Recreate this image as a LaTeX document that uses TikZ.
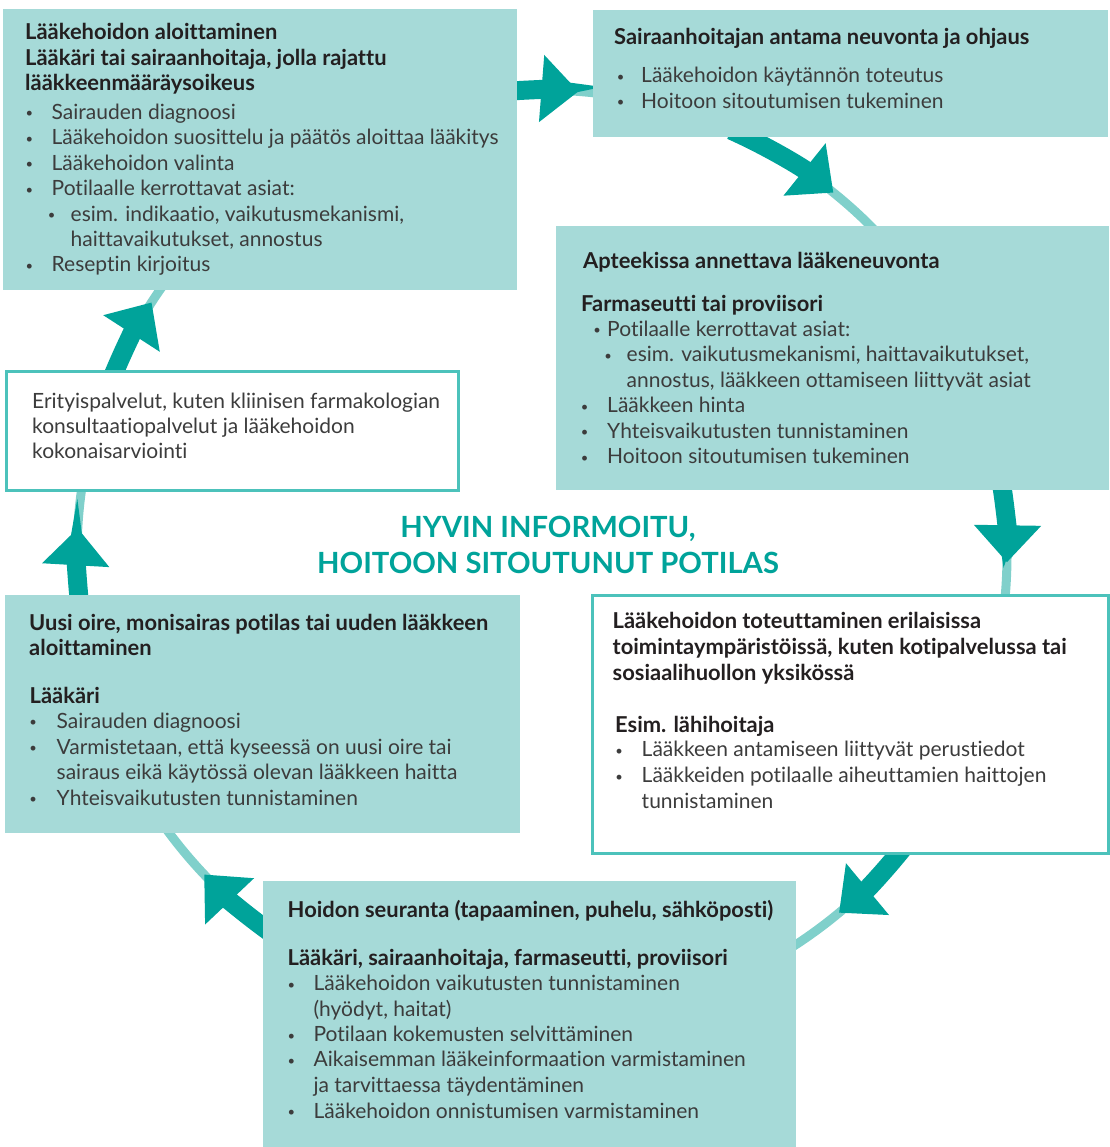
\documentclass[tikz,border=0pt]{standalone}
\usepackage{fontspec}
\setmainfont{Lato}[Ligatures=NoCommon]
\usetikzlibrary{arrows.meta}
\definecolor{boxfill}{HTML}{A6DAD8}
\definecolor{ring}{HTML}{80D0CB}
\definecolor{dark}{HTML}{00A39A}
\definecolor{edge}{HTML}{4CC2BB}
\definecolor{bodyc}{HTML}{3C3C3C}
\definecolor{headc}{HTML}{231F20}
\newcounter{tl}
\newcommand\Tb[3]{\stepcounter{tl}\node[bodytxt] (b\arabic{tl}) at (#1,#2) {#3};}
\newcommand\Th[3]{\stepcounter{tl}\node[headtxt] (h\arabic{tl}) at (#1,#2) {#3};}
\newcommand\Bu[2]{\stepcounter{tl}\node[bultxt] (d\arabic{tl}) at (#1-3.3,#2-1.5) {•};}
\begin{document}
\begin{tikzpicture}[x=1pt,y=-1pt,
  fillbox/.style={fill=boxfill, draw=none, anchor=north west, inner sep=0pt},
  whitebox/.style={fill=white, draw=edge, line width=2.5pt, anchor=north west, inner sep=0pt},
  ringline/.style={draw=ring, line width=9pt},
  flow/.style={draw=dark, line width=19pt, -{Triangle[width=65pt,length=37pt]}},
  bodytxt/.style={anchor=base west, inner sep=0pt, text=bodyc, font=\fontsize{21}{25}\selectfont},
  bultxt/.style={anchor=base west, inner sep=0pt, text=bodyc, font=\fontsize{13}{13}\selectfont},
  headtxt/.style={anchor=base west, inner sep=0pt, text=headc, font=\fontsize{21.9}{25}\selectfont\bfseries},
  centertxt/.style={anchor=base, inner sep=0pt, text=dark, font=\fontsize{29.2}{34}\selectfont\bfseries}]
\useasboundingbox (0,0) rectangle (1109,1147);
\fill[white] (0,0) rectangle (1109,1147);
\coordinate (O) at (542,555);
% ring
\draw[ringline] (O) circle[radius=465];
% flow arrows along the ring
\draw[flow] ([shift={(-95:465)}]O) arc[start angle=-95, end angle=-85.5, radius=465];
\draw[flow] ([shift={(-66:465)}]O) arc[start angle=-66, end angle=-51.2, radius=465];
\draw[flow] ([shift={(-10:465)}]O) arc[start angle=-10, end angle=0.9, radius=465];
\draw[flow] ([shift={(37:465)}]O) arc[start angle=37, end angle=50.3, radius=465];
\draw[flow] ([shift={(125:465)}]O) arc[start angle=125, end angle=136.6, radius=465];
\draw[flow] ([shift={(173:465)}]O) arc[start angle=173, end angle=183.3, radius=465];
\draw[flow] ([shift={(201:465)}]O) arc[start angle=201, end angle=212.9, radius=465];
% boxes
\node[fillbox, minimum width=514pt, minimum height=281pt] (boxA) at (3,9) {};
\node[fillbox, minimum width=515pt, minimum height=127pt] (boxB) at (593,10) {};
\node[fillbox, minimum width=553pt, minimum height=264pt] (boxC) at (556,226) {};
\node[whitebox, minimum width=452pt, minimum height=119pt] (boxD) at (5,370) {};
\node[fillbox, minimum width=515pt, minimum height=238pt] (boxE) at (5,595) {};
\node[whitebox, minimum width=516pt, minimum height=258pt] (boxF) at (591,594) {};
\node[fillbox, minimum width=533pt, minimum height=266pt] (boxG) at (263,881) {};
% box A
\Th{25}{39.5}{Lääkehoidon aloittaminen}
\Th{25}{65.5}{Lääkäri tai sairaanhoitaja, jolla rajattu}
\Th{25}{91}{lääkkeenmääräysoikeus}
\Bu{28.7}{119.3}\Tb{51.5}{119.3}{Sairauden diagnoosi}
\Bu{28.7}{145}\Tb{51.5}{145}{Lääkehoidon suosittelu ja päätös aloittaa lääkitys}
\Bu{28.7}{170.5}\Tb{51.5}{170.5}{Lääkehoidon valinta}
\Bu{28.7}{196}\Tb{51.5}{196}{Potilaalle kerrottavat asiat:}
\Bu{51}{221.3}\Tb{70.5}{221.3}{esim. indikaatio, vaikutusmekanismi,}
\Tb{70.5}{246.7}{haittavaikutukset, annostus}
\Bu{28.7}{272}\Tb{51.5}{272}{Reseptin kirjoitus}
% box B
\Th{614}{45}{Sairaanhoitajan antama neuvonta ja ohjaus}
\Bu{620}{83}\Tb{641}{83}{Lääkehoidon käytännön toteutus}
\Bu{620}{108.5}\Tb{641}{108.5}{Hoitoon sitoutumisen tukeminen}
% box C
\Th{583}{268.5}{Apteekissa annettava lääkeneuvonta}
\Th{581}{311}{Farmaseutti tai proviisori}
\Bu{596.5}{336}\Tb{607}{336}{Potilaalle kerrottavat asiat:}
\Bu{607.5}{361.5}\Tb{626.5}{361.5}{esim. vaikutusmekanismi, haittavaikutukset,}
\Tb{626.5}{387}{annostus, lääkkeen ottamiseen liittyvät asiat}
\Bu{584}{412.5}\Tb{607}{412.5}{Lääkkeen hinta}
\Bu{584}{438}\Tb{607}{438}{Yhteisvaikutusten tunnistaminen}
\Bu{584}{463.5}\Tb{607}{463.5}{Hoitoon sitoutumisen tukeminen}
% box D
\Tb{32}{408.3}{Erityispalvelut, kuten kliinisen farmakologian}
\Tb{32}{433.3}{konsultaatiopalvelut ja lääkehoidon}
\Tb{32}{458.3}{kokonaisarviointi}
% centre
\node[centertxt] (c1) at (548,537) {HYVIN INFORMOITU,};
\node[centertxt] (c2) at (548,573) {HOITOON SITOUTUNUT POTILAS};
% box E
\Th{29}{630.5}{Uusi oire, monisairas potilas tai uuden lääkkeen}
\Th{29}{655.5}{aloittaminen}
\Th{29.5}{703.5}{Lääkäri}
\Bu{32.5}{728.3}\Tb{56.5}{728.3}{Sairauden diagnoosi}
\Bu{32.5}{754}\Tb{56.5}{754}{Varmistetaan, että kyseessä on uusi oire tai}
\Tb{56.5}{779.3}{sairaus eikä käytössä olevan lääkkeen haitta}
\Bu{32.5}{805}\Tb{56.5}{805}{Yhteisvaikutusten tunnistaminen}
% box F
\Th{612.5}{628.8}{Lääkehoidon toteuttaminen erilaisissa}
\Th{612.5}{654.8}{toimintaympäristöissä, kuten kotipalvelussa tai}
\Th{612.5}{680.5}{sosiaalihuollon yksikössä}
\Th{615}{732}{Esim. lähihoitaja}
\Bu{618.5}{756.7}\Tb{641.5}{756.7}{Lääkkeen antamiseen liittyvät perustiedot}
\Bu{618.5}{782.7}\Tb{641.5}{782.7}{Lääkkeiden potilaalle aiheuttamien haittojen}
\Tb{641.5}{808.3}{tunnistaminen}
% box G
\Th{287.5}{917}{Hoidon seuranta (tapaaminen, puhelu, sähköposti)}
\Th{287.5}{965}{Lääkäri, sairaanhoitaja, farmaseutti, proviisori}
\Bu{290.6}{990.7}\Tb{313.4}{990.7}{Lääkehoidon vaikutusten tunnistaminen}
\Tb{313.4}{1016.5}{(hyödyt, haitat)}
\Bu{290.6}{1041.7}\Tb{313.4}{1041.7}{Potilaan kokemusten selvittäminen}
\Bu{290.6}{1066.7}\Tb{313.4}{1066.7}{Aikaisemman lääkeinformaation varmistaminen}
\Tb{313.4}{1092.3}{ja tarvittaessa täydentäminen}
\Bu{290.6}{1118.3}\Tb{313.4}{1118.3}{Lääkehoidon onnistumisen varmistaminen}
\end{tikzpicture}
\end{document}
